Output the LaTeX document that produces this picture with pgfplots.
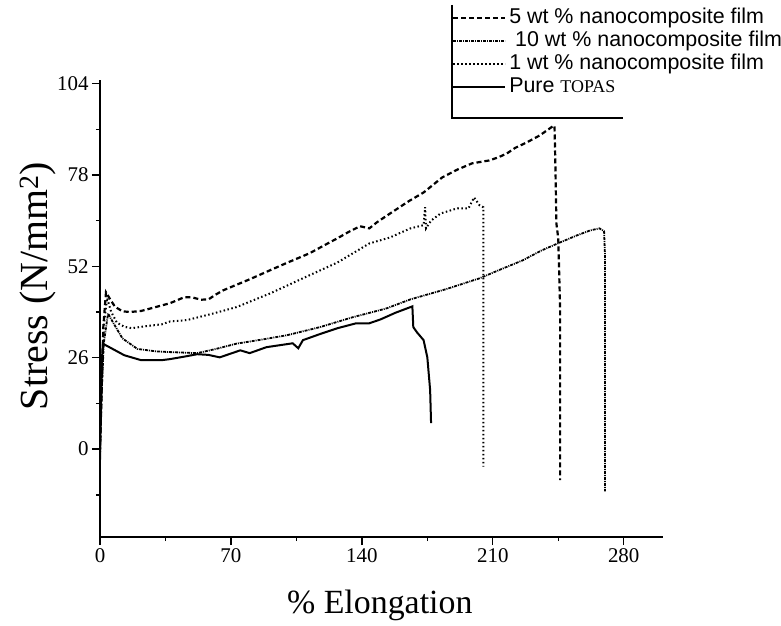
\documentclass[border=0pt]{standalone}
\usepackage{fontspec}
\setmainfont{Liberation Serif}
\newfontfamily\arial{Liberation Sans}
\usepackage{pgfplots}
\pgfplotsset{compat=1.18}

\begin{document}
\begin{tikzpicture}
\path[use as bounding box] (-100bp,-89bp) rectangle (681bp,537bp);
\begin{axis}[
  at={(0,0)}, anchor=south west,
  scale only axis, width=563bp, height=457bp,
  xmin=0, xmax=301, ymin=-25, ymax=105,
  axis lines=left, axis line style={-, line width=1.6bp},
  xtick={0,70,140,210,280}, ytick={0,26,52,78,104},
  minor xtick={35,105,175,245}, minor ytick={-13,13,39,65,91},
  tick align=outside, major tick length=8bp, minor tick length=4bp,
  every tick/.style={black, line width=1.4bp},
  /pgf/number format/assume math mode=true,
  ticklabel style={font=\fontsize{21}{25}\selectfont},
  xlabel={\% Elongation},
  ylabel={Stress (N/mm\textsuperscript{2})},
  xlabel style={font=\fontsize{34}{40}\selectfont, at={(axis description cs:0.497,-0.149)}, anchor=center},
  ylabel style={font=\fontsize{40}{46}\selectfont, at={(axis description cs:-0.110,0.549)}, anchor=center},
  legend cell align=left,
  legend image code/.code={\draw[#1] (0bp,0bp) -- (52bp,0bp);},
  legend style={draw=none, fill=none, at={(axis description cs:0.625,1.1565)}, anchor=north west,
    inner sep=0pt, row sep=4bp, column sep=3bp,
    nodes={inner sep=0pt, text height=15bp, text depth=4bp},
    font=\arial\fontsize{21.5}{25}\selectfont},
]
% 5 wt %
\addplot[black, line width=2.2bp, dash pattern=on 5bp off 3bp] coordinates {
(0,0) (0.8,15) (1.8,35) (3.2,44.6) (5,43) (8,40.5) (12,39.2) (16,39) (22,39.3) (29,40.3)
(37.4,41.5) (45,43.2) (49,43.2) (54,42.5) (58,42.6) (62,44) (66,45.2) (80,48.3) (91,50.9)
(100,53) (112,55.7) (120,58) (127,60) (133,61.8) (139,63.4) (144,62.8) (148,64.5) (155,67)
(165,70.5) (173,73) (183,77.3) (191,79.5) (199,81.3) (208,82.1) (213,83) (217.5,84.1)
(222,85.7) (228,87.2) (235,89.2) (242,91.8) (243,92) (243.5,80) (244,64.2) (245,60) (246,40) (246,-8.8)
};
\addlegendentry{5 wt \% nanocomposite film}
% 10 wt %
\addplot[black, line width=1.8bp, dash pattern=on 3bp off 1bp on 1bp off 1bp] coordinates {
(0,-2) (0.8,15) (2,30) (4.3,38.6) (7,36) (12,31.5) (20,28.5) (30,27.8) (37.4,27.6) (52,27.3)
(62,28.5) (73,30) (87,31.2) (100,32.4) (117.6,34.7) (135,37.5) (153,40) (166,42.6) (185,45.5)
(203,48.6) (215,51.3) (226,53.7) (236,56.5) (246,58.8) (255,60.8) (262,62.2) (267,62.8)
(269.5,62) (270,55) (270,-12)
};
\addlegendentry{\ 10 wt \% nanocomposite film}
% 1 wt %
\addplot[black, line width=2bp, dash pattern=on 1.5bp off 2.5bp] coordinates {
(0,0) (0.8,15) (2,35) (3.8,43) (6,39) (9,36) (13,34.8) (17,34.4) (25,35) (33,35.5)
(37.4,36.3) (46.5,36.7) (60,38.5) (73,40.4) (91,44.3) (108.5,48.6) (127,53.1) (144,58.5)
(155,60.2) (166,62.8) (173,63.7) (173.8,68.8) (174.3,62.8) (177,65) (182,67) (191,68.5)
(197,68.5) (200,71.6) (203,69.3) (205,68.8) (205,-5)
};
\addlegendentry{1 wt \% nanocomposite film}
% Pure TOPAS
\addplot[black, line width=2bp] coordinates {
(0,-3) (0.4,10) (1,25) (1.5,30) (5,29) (13,26.7) (22,25.3) (33,25.3) (37.4,25.6) (45,26.3)
(52,27) (58,26.8) (64,26.1) (75,28.1) (80,27.3) (89,29) (103,30.1) (106,28.7) (108.5,31)
(118,32.8) (127,34.4) (137,35.8) (144,35.8) (150,36.9) (158,38.8) (167,40.6) (167.5,34.7)
(169.5,33.2) (173,31) (175,26.1) (176.5,16.8) (177,7.4)
};
\addlegendentry{Pure {\rmfamily\fontsize{18}{20}\selectfont TOPAS}}
\end{axis}
\draw[line width=1.2bp] (352bp,532bp) -- (352bp,419bp) -- (523bp,419bp);
\end{tikzpicture}
\end{document}
